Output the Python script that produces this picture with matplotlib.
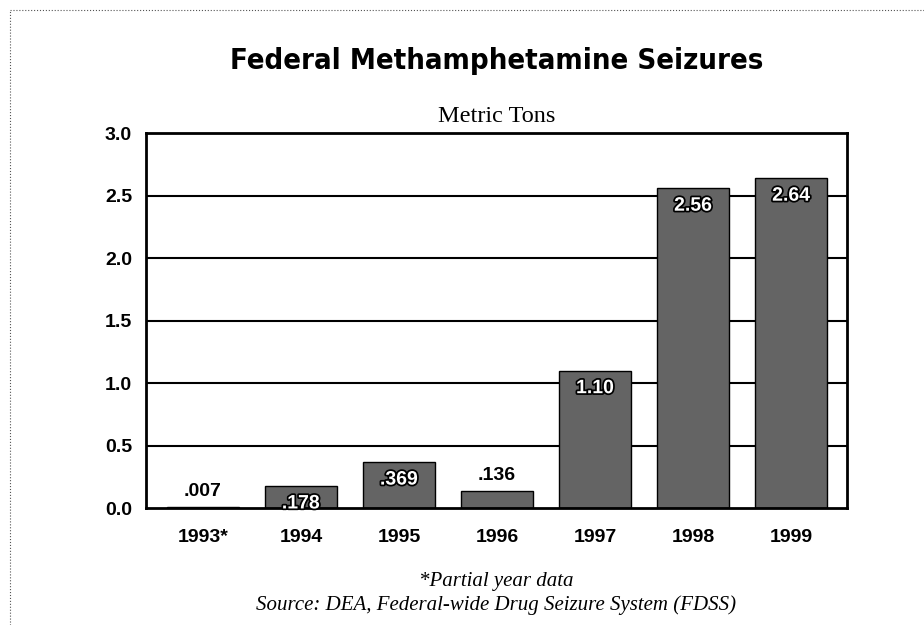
import matplotlib
matplotlib.use("Agg")
import matplotlib.pyplot as plt
import matplotlib.patheffects as pe
from matplotlib.lines import Line2D

years = ["1993*", "1994", "1995", "1996", "1997", "1998", "1999"]
tons = [0.007, 0.178, 0.369, 0.136, 1.10, 2.56, 2.64]
bar_labels = [".007", ".178", ".369", ".136", "1.10", "2.56", "2.64"]
yticks = [0.0, 0.5, 1.0, 1.5, 2.0, 2.5, 3.0]

fig = plt.figure(figsize=(9.24, 6.25), dpi=100)
ax = fig.add_axes([0.158, 0.187, 0.7587, 0.6])

x = list(range(len(years)))
for yv in yticks[1:-1]:
    ax.axhline(yv, color="black", lw=1.5, zorder=1)
ax.bar(x, tons, width=0.73, color="#646464", edgecolor="black", lw=1, zorder=2)

for xi, v, lab in zip(x, tons, bar_labels):
    if v < 0.15:
        # tiny bars: label sits above in black
        ax.annotate(lab, (xi, v), xytext=(0, 5), textcoords="offset points",
                    ha="center", va="bottom", fontsize=14, fontweight="bold",
                    family="Liberation Sans", color="black", zorder=4)
    else:
        ax.annotate(lab, (xi, v), xytext=(0, -13), textcoords="offset points",
                    ha="center", va="center", fontsize=14, fontweight="bold",
                    family="Liberation Sans", color="white", zorder=4,
                    path_effects=[pe.withStroke(linewidth=2.5, foreground="black")])

ax.set_xlim(-0.58, 6.57)
ax.set_ylim(0, 3.0)
ax.set_yticks(yticks)
ax.set_yticklabels([f"{t:.1f}" for t in yticks], fontsize=14, fontweight="bold",
                   family="Liberation Sans")
ax.set_xticks(x)
ax.set_xticklabels(years, fontsize=14, fontweight="bold", family="Liberation Sans")
ax.tick_params(axis="y", length=0, pad=10)
ax.tick_params(axis="x", length=0, pad=15)
for s in ax.spines.values():
    s.set_linewidth(2)
    s.set_color("black")

fig.text(0.537, 0.902, "Federal Methamphetamine Seizures", ha="center", va="center",
         fontsize=21, fontweight="bold", fontstretch="condensed", family="DejaVu Sans")
fig.text(0.537, 0.813, "Metric Tons", ha="center", va="center", fontsize=17.5,
         family="Liberation Serif")
fig.text(0.537, 0.069, "*Partial year data", ha="center", va="center", fontsize=15,
         style="italic", family="Liberation Serif")
fig.text(0.537, 0.032, "Source: DEA, Federal-wide Drug Seizure System (FDSS)",
         ha="center", va="center", fontsize=15, style="italic", family="Liberation Serif")

# thin scanned page border at top and left
fig.add_artist(Line2D([0.011, 1.0], [0.984, 0.984], color="#555555", lw=0.8, ls=":"))
fig.add_artist(Line2D([0.011, 0.011], [0.0, 0.984], color="#555555", lw=0.8, ls=":"))

fig.savefig("out.png", dpi=100)
